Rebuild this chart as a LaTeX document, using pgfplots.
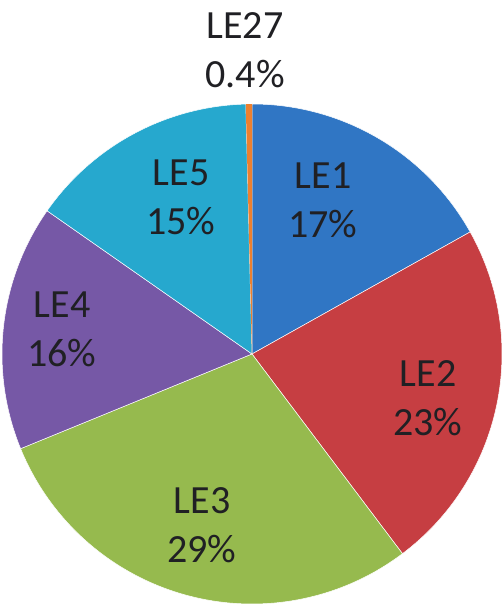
\documentclass[border=0pt]{standalone}
\usepackage{pgfplots}
\pgfplotsset{compat=1.18}
\usepackage{fontspec}
\setmainfont{Carlito}
\definecolor{cA}{RGB}{48,118,196}
\definecolor{cB}{RGB}{198,62,66}
\definecolor{cC}{RGB}{150,186,78}
\definecolor{cD}{RGB}{118,88,166}
\definecolor{cE}{RGB}{38,168,206}
\definecolor{cF}{RGB}{236,128,48}
\definecolor{txt}{RGB}{32,32,36}
\tikzset{lbl/.style={font=\fontsize{40}{49}\selectfont,text=txt,align=center,inner sep=0pt}}
\begin{document}
\begin{tikzpicture}
% values (percent)
\def\vA{17}\def\vB{23}\def\vC{29.3}\def\vD{16}\def\vE{15}\def\vF{0.4}
\pgfmathsetmacro\tot{\vA+\vB+\vC+\vD+\vE+\vF}
\pgfmathsetmacro\aA{90}
\pgfmathsetmacro\aB{\aA-360*\vA/\tot}
\pgfmathsetmacro\aC{\aB-360*\vB/\tot}
\pgfmathsetmacro\aD{\aC-360*\vC/\tot}
\pgfmathsetmacro\aE{\aD-360*\vD/\tot}
\pgfmathsetmacro\aF{\aE-360*\vE/\tot}
\pgfmathsetmacro\aG{\aF-360*\vF/\tot}
\begin{axis}[x=1pt,y=1pt,xmin=0,xmax=504,ymin=0,ymax=606,hide axis,clip=false,
  scale only axis]
\addplot[draw=none] coordinates {(0,0) (504,606)};
\def\cx{252}\def\cy{252}\def\R{250pt}
\fill[cA,draw=white,line width=0.5pt] (axis cs:\cx,\cy) -- ++(\aA:\R) arc[start angle=\aA,end angle=\aB,radius=\R] -- cycle;
\fill[cB,draw=white,line width=0.5pt] (axis cs:\cx,\cy) -- ++(\aB:\R) arc[start angle=\aB,end angle=\aC,radius=\R] -- cycle;
\fill[cC,draw=white,line width=0.5pt] (axis cs:\cx,\cy) -- ++(\aC:\R) arc[start angle=\aC,end angle=\aD,radius=\R] -- cycle;
\fill[cD,draw=white,line width=0.5pt] (axis cs:\cx,\cy) -- ++(\aD:\R) arc[start angle=\aD,end angle=\aE,radius=\R] -- cycle;
\fill[cE,draw=white,line width=0.5pt] (axis cs:\cx,\cy) -- ++(\aE:\R) arc[start angle=\aE,end angle=\aF,radius=\R] -- cycle;
\fill[cF] (axis cs:\cx,\cy) -- ++(\aF:\R) arc[start angle=\aF,end angle=\aG,radius=\R] -- cycle;
\node[lbl] at (axis cs:323,406) {LE1\\17\%};
\node[lbl] at (axis cs:428,208) {LE2\\23\%};
\node[lbl] at (axis cs:202,81) {LE3\\29\%};
\node[lbl] at (axis cs:62,277) {LE4\\16\%};
\node[lbl] at (axis cs:181,409) {LE5\\15\%};
\node[lbl] at (axis cs:245,556) {LE27\\0.4\%};
\end{axis}
\pgfresetboundingbox
\path (current axis.south west) rectangle (current axis.north east);
\end{tikzpicture}
\end{document}
